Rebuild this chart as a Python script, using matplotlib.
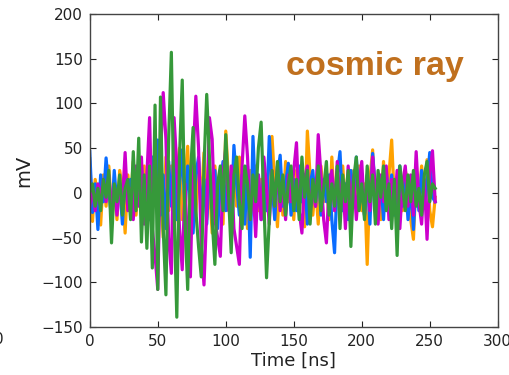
import numpy as np
import matplotlib
matplotlib.use("Agg")
import matplotlib.pyplot as plt

# sampling step of the traces, ns
dt = 2.0

# hand-read trace values, mV (one sample every 2 ns)
orange = [38, -32, 15, -10, -36, 20, -15, 30, -20, 10, -30, 25, 5, -45, 20, -10,
          35, -25, 15, -20, 30, -40, 20, -15, 45, -30, 10, -50, 40, -20, 30, -45,
          15, 50, -30, 10, 52, -40, 20, -25, 35, -15, 45, -30, 10, -45, 30, -10,
          20, -35, 69, 15, -30, 20, -15, 40, -25, 10, -40, 25, -10, 30, -20, 15,
          -30, 20, -5, 63, 10, -38, 20, -25, 35, -10, 15, -30, 25, -15, 10, -38,
          69, 20, -25, 10, -35, 30, -10, 15, -30, 40, -20, 10, -25, 30, -15, 20,
          -40, 25, -10, 30, -20, 10, -80, 15, 48, -20, 10, -30, 35, -15, 20, 59,
          -10, -35, 15, -20, 25, 10, -30, -52, 20, -15, 30, -10, 37, -20, -38, -5]

blue = [46, -22, 10, -41, 20, -10, 39, 5, -30, 25, -15, 10, -35, 20, -5, 15,
        -25, 10, -10, 30, -20, 15, -30, 40, -10, 59, -25, 20, -40, 35, -15, 50,
        -30, 10, 48, -20, 30, -10, -45, 20, 40, -25, 15, -35, 30, -10, 25, -40,
        10, 35, -20, 15, -30, 53, 10, -25, 20, -35, 30, -72, 63, -10, 20, -30,
        15, -20, 63, 10, -30, 20, 42, -15, 10, 33, -25, 15, -20, 30, -10, 20,
        -35, 10, 25, -15, 30, -25, 15, -10, 20, -30, -67, 20, 46, -20, 10, -30,
        25, -15, 40, -10, 15, -25, 20, -35, 44, 5, -20, 15, -30, 25, -10, 20,
        -25, 10, 30, -15, 20, -30, 10, -41, 15, -20, 25, -15, 10, 45, -5, -10]

magenta = [-15, 5, -20, 10, -5, 15, -10, 20, -15, 5, -25, 10, -10, 45, -20, 5,
           -30, 30, -15, 40, -35, 20, 84, -40, -70, -108, 40, 112, 60, -50, -90, 84,
           30, -40, -86, 10, -60, -94, 40, 108, 50, -60, -103, -20, 84, 60, -30, -50,
           -71, 20, 50, -20, 30, -40, -60, -80, 30, 86, 40, -30, 10, -49, 20, -30,
           40, 5, -35, 25, -15, 30, -20, 10, -30, 20, -10, 25, 56, -20, -45, 15,
           30, -25, 10, -15, 65, 20, -30, -56, 10, 25, -20, 35, -10, 15, -40, 30,
           -15, 20, -30, 10, 35, -25, 15, -20, 40, 5, -35, 20, -10, 30, -30, 15,
           -20, 25, -40, 10, 30, -15, 20, -25, 46, -10, -35, 15, -52, 20, 47, -10]

green = [0, 10, -15, 5, -20, 15, -5, 25, -56, 10, -10, 20, -25, 5, 15, -30,
         46, -20, 61, -55, 20, -62, 30, -84, 98, -108, 107, -40, -114, 60, 157, -20,
         -139, 40, 126, -30, -108, 20, 73, -20, -60, -94, 30, 110, 40, -30, -80, 10,
         30, -20, 65, 0, -67, 20, 40, -10, -40, 30, 10, -30, 20, -10, 50, 79,
         -10, -95, -30, 25, -15, 35, -10, 20, -25, 10, 30, -20, 15, -30, 40, -5,
         25, -35, 15, -10, 30, -20, 5, 35, -25, 10, -15, 30, -40, 20, -10, 25,
         -60, 15, 40, -20, 10, -30, 30, -10, 20, -35, 25, -5, 30, -20, 10, -40,
         15, -70, 30, 5, -20, 20, -10, 25, -15, 5, -25, 20, 35, -10, 10, 5]

traces = [
    (orange, "#ffa200"),
    (blue, "#0a6cff"),
    (magenta, "#cc00cc"),
    (green, "#36993a"),
]


def main():
    fig = plt.figure(figsize=(5.1, 3.75), dpi=100)
    ax = fig.add_axes([0.176, 0.128, 0.8, 0.835])

    for vals, col in traces:
        t = dt * np.arange(len(vals))
        ax.plot(t, vals, color=col, linewidth=2.3)

    ax.set_xlim(0, 300)
    ax.set_ylim(-150, 200)
    ax.set_xticks(range(0, 301, 50))
    ax.set_yticks(range(-150, 201, 50))
    ax.tick_params(direction="in", top=True, right=True, length=4,
                   labelsize=11, pad=5, colors="#222222")
    for s in ax.spines.values():
        s.set_color("#444444")
        s.set_linewidth(1.0)

    ax.set_xlabel("Time [ns]", fontsize=13, labelpad=2, color="#222222")
    ax.set_ylabel("mV", fontsize=14, labelpad=6, color="#222222")

    ax.text(0.48, 0.805, "cosmic ray", transform=ax.transAxes,
            fontsize=24.5, fontweight="bold", color="#c0701e",
            family="Liberation Sans", ha="left", va="baseline")

    # clipped tick label of the neighbouring panel
    fig.text(-0.002, 0.094, "0", fontsize=11, ha="center", va="center",
             color="#222222")

    fig.savefig("out.png", dpi=100)


if __name__ == "__main__":
    main()
